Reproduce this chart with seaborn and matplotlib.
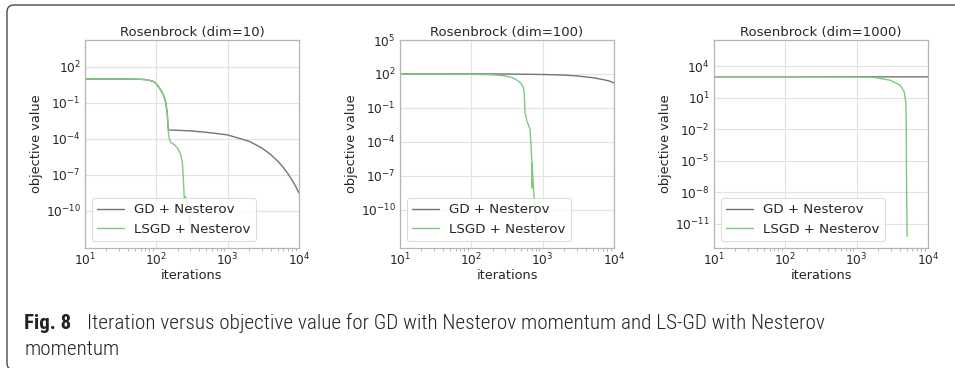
import numpy as np
import pandas as pd
import matplotlib
matplotlib.use("Agg")
import matplotlib.pyplot as plt
from matplotlib.patches import FancyBboxPatch
from matplotlib.ticker import LogLocator, NullLocator, LogFormatterSciNotation
import seaborn as sns

# ---- data: (iteration, log10 objective) knots for each run ----
titles = ["Rosenbrock (dim=10)", "Rosenbrock (dim=100)", "Rosenbrock (dim=1000)"]
methods = ["GD + Nesterov", "LSGD + Nesterov"]

gd10_it = [10, 40, 60, 75, 90, 100, 112, 125, 135, 142, 146, 148, 300, 500, 700, 1000,
           2000, 3000, 4000, 5000, 6000, 7000, 8000, 9000, 10000]
gd10_lg = [1.0, 0.99, 0.97, 0.93, 0.8, 0.6, 0.2, -0.3, -0.9, -1.8, -3.0, -3.25, -3.33, -3.45, -3.55, -3.67,
           -4.2, -4.75, -5.3, -5.83, -6.37, -6.9, -7.45, -7.97, -8.5]
ls10_it = [10, 40, 60, 75, 90, 100, 112, 125, 135, 142, 146, 148, 152, 160, 180, 200, 220, 232, 240, 246,
           256, 270, 290, 310, 333]
ls10_lg = [1.0, 0.99, 0.97, 0.93, 0.8, 0.6, 0.2, -0.3, -0.9, -1.8, -3.0, -3.5, -4.0, -4.3, -4.5, -4.8, -5.3,
           -6.0, -7.5, -8.9, -8.8, -9.3, -10.6, -11.6, -12.4]

gd100_it = [10, 100, 300, 1000, 2000, 3000, 5000, 7000, 8500, 10000]
gd100_lg = [2.0, 2.0, 1.99, 1.95, 1.9, 1.82, 1.67, 1.5, 1.38, 1.2]
ls100_it = [10, 100, 200, 300, 370, 437, 490, 530, 552, 565, 600, 666, 690, 703, 705, 710, 740, 780, 830]
ls100_lg = [2.0, 1.97, 1.92, 1.82, 1.68, 1.45, 1.2, 0.9, 0.3, -1.4, -2.15, -2.9, -4.5, -5.85, -8.1, -5.9,
            -7.8, -10.0, -12.0]

gd1000_it = [10, 100, 1000, 3000, 10000]
gd1000_lg = [3.0, 3.0, 3.0, 2.99, 2.99]
ls1000_it = [10, 100, 1000, 1700, 2950, 4070, 4650, 4900, 4960, 5000, 5050, 5100]
ls1000_lg = [3.0, 3.0, 2.98, 2.95, 2.67, 2.2, 1.55, 0.5, -1.7, -6.8, -9.5, -12.2]

runs = [
    (gd10_it, gd10_lg, ls10_it, ls10_lg),
    (gd100_it, gd100_lg, ls100_it, ls100_lg),
    (gd1000_it, gd1000_lg, ls1000_it, ls1000_lg),
]

# y tick decades and limits per panel (log10)
yticks_exp = [[2, -1, -4, -7, -10], [5, 2, -1, -4, -7, -10], [4, 1, -2, -5, -8, -11]]
ylims_exp = [(-13.1, 4.25), (-13.4, 5.0), (-13.3, 6.5)]
xticks = [1e1, 1e2, 1e3, 1e4]

caption_bold = "Fig. 8"
caption_line1 = "Iteration versus objective value for GD with Nesterov momentum and LS-GD with Nesterov"
caption_line2 = "momentum"

colors = {"GD + Nesterov": "#747474", "LSGD + Nesterov": "#7cca7c"}

sns.set_theme(style="whitegrid")
plt.rcParams["font.family"] = ["DejaVu Sans"]
plt.rcParams.update({
    "axes.edgecolor": "#b5b5b5",
    "axes.linewidth": 0.9,
    "grid.color": "#e2e2e2",
    "grid.linewidth": 0.8,
    "text.color": "#262626",
    "axes.labelcolor": "#262626",
    "xtick.color": "#262626",
    "ytick.color": "#262626",
})

W, H = 955, 368
fig = plt.figure(figsize=(W / 100, H / 100), dpi=100)

lefts = [85, 400, 714]
top_px, bot_px, width_px = 40, 248, 214

for i, (gx, gy, lx, ly) in enumerate(runs):
    ax = fig.add_axes([lefts[i] / W, 1 - bot_px / H, width_px / W, (bot_px - top_px) / H])
    df = pd.concat([
        pd.DataFrame({"iterations": gx, "objective": np.power(10.0, gy), "method": methods[0]}),
        pd.DataFrame({"iterations": lx, "objective": np.power(10.0, ly), "method": methods[1]}),
    ], ignore_index=True)
    sns.lineplot(data=df, x="iterations", y="objective", hue="method", palette=colors,
                 estimator=None, sort=False, linewidth=1.0, ax=ax)
    ax.set_xscale("log")
    ax.set_yscale("log")
    ax.set_xlim(1e1, 1e4)
    lo, hi = ylims_exp[i]
    ax.set_ylim(10 ** lo, 10 ** hi)
    ax.set_xticks(xticks)
    ax.xaxis.set_major_formatter(LogFormatterSciNotation())
    ax.xaxis.set_minor_locator(LogLocator(base=10, subs=np.arange(2, 10), numticks=20))
    ax.set_yticks([10.0 ** e for e in yticks_exp[i]])
    ax.yaxis.set_major_formatter(LogFormatterSciNotation())
    ax.yaxis.set_minor_locator(NullLocator())
    ax.tick_params(axis="both", which="major", labelsize=8.8, length=0, pad=3)
    ax.tick_params(axis="x", which="minor", bottom=True, length=2, width=0.5, color="#999999")
    ax.grid(True, which="major")
    ax.grid(False, which="minor")
    ax.set_title(titles[i], fontsize=9.5, pad=3)
    ax.set_xlabel("iterations", fontsize=9.3, labelpad=0)
    ax.set_ylabel("objective value", fontsize=9.3, labelpad=2)
    leg = ax.legend(loc="lower left", fontsize=9.6, frameon=True, title=None,
                    handlelength=2.0, borderaxespad=0.5)
    leg.get_frame().set_edgecolor("#d5d5d5")
    leg.get_frame().set_linewidth(0.8)

# caption frame: top edge and rounded left side
frame = FancyBboxPatch((0.07, -0.02), 9.8, 3.65, boxstyle="round,pad=0,rounding_size=0.07",
                       transform=fig.dpi_scale_trans, fill=False, edgecolor="#4a4a4a",
                       linewidth=1.0, clip_on=False)
fig.patches.append(frame)

cap_font = ["Roboto Condensed", "DejaVu Sans"]
cap_kw = dict(family=cap_font, stretch="condensed", color="#222222", va="baseline", ha="left")
t_bold = fig.text(24 / W, 1 - 329 / H, caption_bold, fontsize=15, fontweight="bold", **cap_kw)
fig.canvas.draw()
bold_end = t_bold.get_window_extent().x1
fig.text((bold_end + 16) / W, 1 - 329 / H, caption_line1, fontsize=15.3, fontweight="light", **cap_kw)
fig.text(24 / W, 1 - 355 / H, caption_line2, fontsize=15.3, fontweight="light", **cap_kw)

fig.savefig("out.png", dpi=100)
